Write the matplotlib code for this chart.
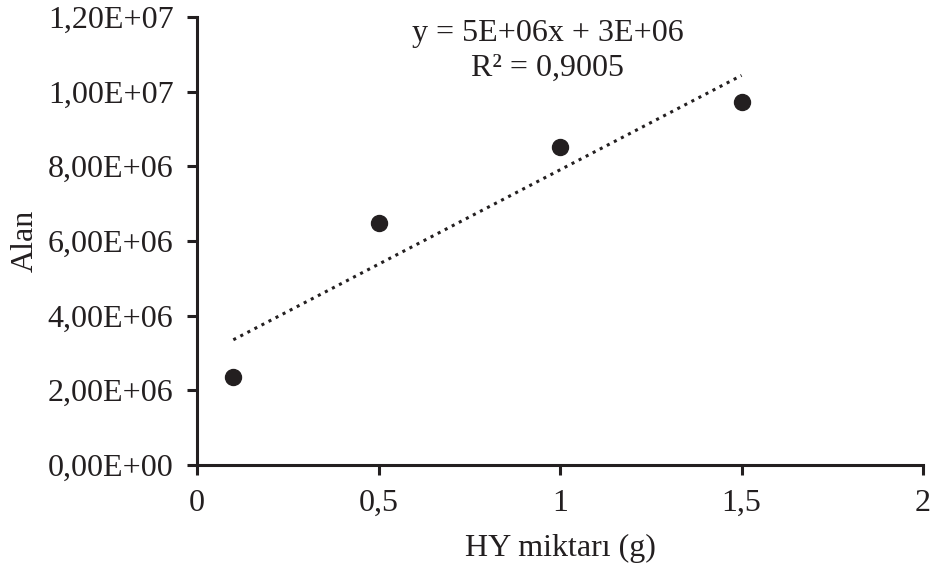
import numpy as np
import matplotlib.pyplot as plt

# Data
hy = [0.1, 0.5, 1.0, 1.5]
alan = [2.35e6, 6.47e6, 8.53e6, 9.72e6]

xticks = [0, 0.5, 1, 1.5, 2]
xticklabels = ["0", "0,5", "1", "1,5", "2"]
yticks = [0, 2e6, 4e6, 6e6, 8e6, 1e7, 1.2e7]
yticklabels = ["0,00E+00", "2,00E+06", "4,00E+06", "6,00E+06",
               "8,00E+06", "1,00E+07", "1,20E+07"]

plt.rcParams['font.family'] = ['Liberation Serif', 'DejaVu Serif']

fig = plt.figure(figsize=(9.32, 5.65), dpi=100)
ax = fig.add_axes([0.2114, 0.177, 0.779, 0.793])

# Linear trendline
slope, intercept = np.polyfit(hy, alan, 1)
xs = np.array([hy[0], hy[-1]])
ax.plot(xs, slope * xs + intercept, linestyle=(0, (1, 1.6)), color='#231f20', linewidth=2.2)

ax.plot(hy, alan, 'o', color='#231f20', markersize=11.5)

ax.set_xlim(0, 2)
ax.set_ylim(0, 1.2e7)
ax.set_xticks(xticks)
ax.set_xticklabels(xticklabels)
ax.set_yticks(yticks)
ax.set_yticklabels(yticklabels)

for s in ['top', 'right']:
    ax.spines[s].set_visible(False)
for s in ['left', 'bottom']:
    ax.spines[s].set_linewidth(2.2)
    ax.spines[s].set_color('#231f20')

ax.tick_params(direction='out', length=7, width=2.2, color='#231f20',
               labelsize=23, labelcolor='#231f20')
ax.tick_params(axis='y', pad=10)
ax.tick_params(axis='x', pad=10)

ax.set_xlabel("HY miktarı (g)", fontsize=23, color='#231f20', labelpad=12)
ax.set_ylabel("Alan", fontsize=23, color='#231f20', labelpad=6)

ax.text(0.483, 0.924, "y = 5E+06x + 3E+06\nR² = 0,9005", transform=ax.transAxes,
        ha='center', va='center', fontsize=23, color='#231f20', linespacing=1.25)

fig.savefig("out.png", dpi=100)
